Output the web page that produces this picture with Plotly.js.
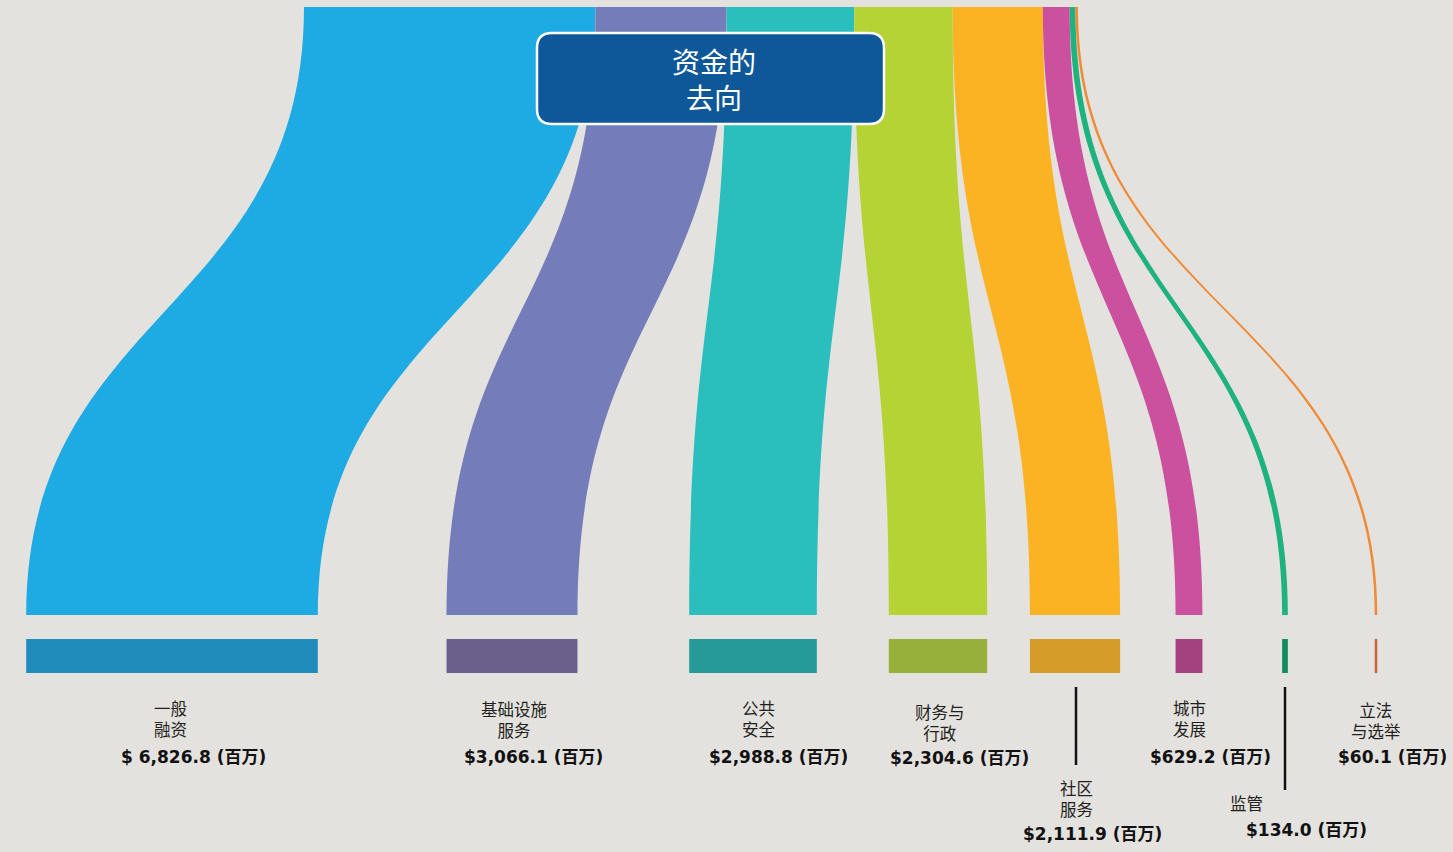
<!DOCTYPE html>
<html><head><meta charset="utf-8">
<script src="https://cdn.plot.ly/plotly-3.0.1.min.js"></script>
<style>html,body{margin:0;padding:0;background:#e4e2de;overflow:hidden}#chart{width:1453px;height:852px;}</style>
</head><body><div id="chart"></div>
<script>
// ---- data ----
const categories = ['一般融资', '基础设施服务', '公共安全', '财务与行政', '社区服务', '城市发展', '监管', '立法与选举'];
const nameLabels = ['一般<br>融资', '基础设施<br>服务', '公共<br>安全', '财务与<br>行政', '社区<br>服务', '城市<br>发展', '监管', '立法<br>与选举'];
const amounts = [6826.8, 3066.1, 2988.8, 2304.6, 2111.9, 629.2, 134.0, 60.1];
const amountLabels = ['$ 6,826.8', '$3,066.1', '$2,988.8', '$2,304.6', '$2,111.9', '$629.2', '$134.0', '$60.1'];
const unitLabel = '(百万)';
const titleText = '资金的<br>去向';

// ---- styles / layout config ----
const bandColors = ['#1eaae2', '#757cba', '#2abfbd', '#b5d334', '#fbb324', '#cb519f', '#1eb27e', '#f08a35'];
const barColors  = ['#1f8cbb', '#6b5f8c', '#259a98', '#97b03b', '#d69c2a', '#a3427f', '#158a62', '#c9623b'];
const W = 1453, H = 852;
const T = 34;               // node thickness (px)
const topY = 7, bandEndY = 615, barTopY = 639;
const srcCenterX = 691;
const targetX = [172, 512, 753, 938, 1075, 1189, 1285, 1376];
const nodePad = 97;
const nameBottomY = [742, 743, 742, 746, 822, 742, 816, 744];
const nameX = [170, 514, 759, 940, 1076, 1189, 1246, 1376];
const valTopY = [746, 746, 746, 747, 823, 746, 819, 746];
const valX = [193, 533, 778, 959, 1092, 1210, 1306, 1392];

const n = categories.length;
// plotly's fixed-arrangement: node.x scaled by layout width, node.y by layout height
const fx = p => p / W, fy = p => p / H;

const nodeLabels = [''], nodeColor = ['rgba(0,0,0,0)'], nodeXs = [fx(topY - T / 2)], nodeYs = [fy(srcCenterX)];
for (let i = 0; i < n; i++) { nodeLabels.push(''); nodeColor.push('rgba(0,0,0,0)'); nodeXs.push(fx(bandEndY + T / 2)); nodeYs.push(fy(targetX[i])); }
for (let i = 0; i < n; i++) { nodeLabels.push(''); nodeColor.push(barColors[i]); nodeXs.push(fx(barTopY + T / 2)); nodeYs.push(fy(targetX[i])); }
const src = [], tgt = [], val = [], lcol = [];
for (let i = 0; i < n; i++) { src.push(0); tgt.push(1 + i); val.push(amounts[i]); lcol.push(bandColors[i]); }
for (let i = 0; i < n; i++) { src.push(1 + i); tgt.push(1 + n + i); val.push(amounts[i]); lcol.push('rgba(0,0,0,0)'); }

const trace = {
  type: 'sankey', orientation: 'v', arrangement: 'fixed',
  domain: {x: [0, 1], y: [0, 1]},
  hoverinfo: 'none',
  node: {label: nodeLabels, color: nodeColor, x: nodeXs, y: nodeYs, thickness: T, pad: nodePad,
         line: {width: 0}, hoverinfo: 'none'},
  link: {source: src, target: tgt, value: val, color: lcol, line: {width: 0}, hoverinfo: 'none'}
};

const py = p => 1 - p / H, px = p => p / W;
const annotations = [];
for (let i = 0; i < n; i++) {
  annotations.push({xref: 'paper', yref: 'paper', x: px(nameX[i]), y: py(nameBottomY[i]), xanchor: 'center', yanchor: 'bottom',
    text: nameLabels[i], showarrow: false, align: 'center', borderpad: 0,
    font: {family: 'Noto Sans CJK SC, sans-serif', size: 16.5, color: '#231f20'}});
  annotations.push({xref: 'paper', yref: 'paper', x: px(valX[i]), y: py(valTopY[i]), xanchor: 'center', yanchor: 'top',
    text: '<b>' + amountLabels[i] + ' ' + unitLabel + '</b>', showarrow: false, borderpad: 0,
    font: {family: 'DejaVu Sans, Noto Sans CJK SC, sans-serif', size: 17, color: '#111'}});
}
annotations.push({xref: 'paper', yref: 'paper', x: px(714), y: py(79), xanchor: 'center', yanchor: 'middle',
  text: titleText, showarrow: false, align: 'center',
  font: {family: 'Noto Sans CJK SC, sans-serif', size: 28, color: '#ffffff'}});

function roundRect(x0, y0, x1, y1, r) {
  // pixel inputs, converted to paper coordinates
  const X = v => px(v).toFixed(5), Y = v => py(v).toFixed(5);
  return `M${X(x0 + r)},${Y(y0)} L${X(x1 - r)},${Y(y0)} Q${X(x1)},${Y(y0)} ${X(x1)},${Y(y0 + r)} ` +
         `L${X(x1)},${Y(y1 - r)} Q${X(x1)},${Y(y1)} ${X(x1 - r)},${Y(y1)} L${X(x0 + r)},${Y(y1)} ` +
         `Q${X(x0)},${Y(y1)} ${X(x0)},${Y(y1 - r)} L${X(x0)},${Y(y0 + r)} Q${X(x0)},${Y(y0)} ${X(x0 + r)},${Y(y0)} Z`;
}
const shapes = [
  {type: 'path', xref: 'paper', yref: 'paper', layer: 'above',
   path: roundRect(537, 33, 884, 124, 15), line: {width: 2.5, color: '#ffffff'}, fillcolor: '#0e5799'},
  {type: 'line', xref: 'paper', yref: 'paper', x0: px(1076), x1: px(1076), y0: py(687), y1: py(765), line: {color: '#111', width: 2.5}},
  {type: 'line', xref: 'paper', yref: 'paper', x0: px(1285), x1: px(1285), y0: py(687), y1: py(790), line: {color: '#111', width: 2.5}}
];

const layout = {
  width: W, height: H, margin: {l: 0, r: 0, t: 0, b: 0},
  paper_bgcolor: '#e4e2de', plot_bgcolor: '#e4e2de',
  showlegend: false, annotations, shapes
};

Plotly.newPlot('chart', [trace], layout, {displayModeBar: false, staticPlot: true});
</script>
</body></html>
